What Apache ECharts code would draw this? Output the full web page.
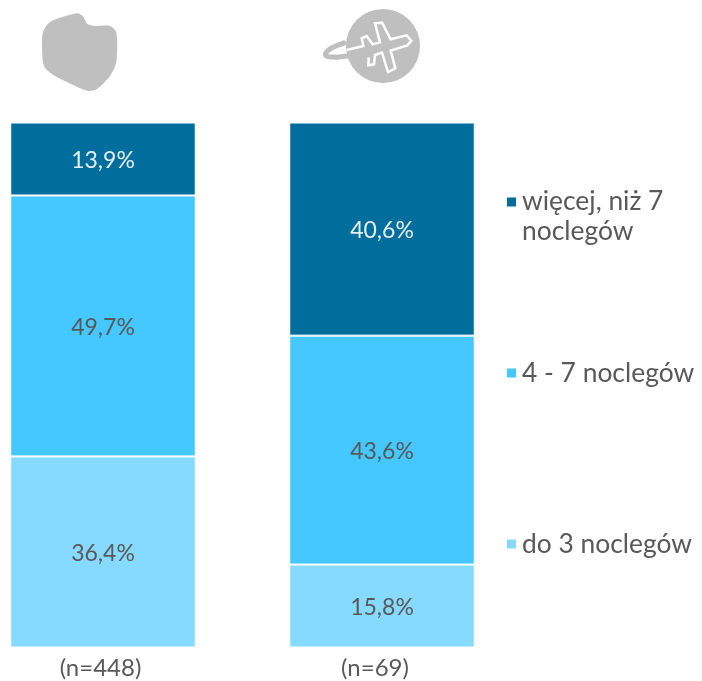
<!DOCTYPE html>
<html><head><meta charset="utf-8">
<style>html,body{margin:0;padding:0;background:#fff}#c{width:702px;height:681px}</style>
<script src="https://cdn.jsdelivr.net/npm/echarts@6/dist/echarts.min.js"></script></head>
<body><div id="c"></div>
<script>
const categories = ['(n=448)', '(n=69)'];
const seriesNames = ['do 3 noclegów', '4 - 7 noclegów', 'więcej, niż 7\nnoclegów'];
const do3 = [36.4, 15.8];
const od4do7 = [49.7, 43.6];
const ponad7 = [13.9, 40.6];
const colors = ['#87DAFF', '#45C7FF', '#006E9C'];
const FONT = 'Lato';
const TEXT = '#595959';

const chart = echarts.init(document.getElementById('c'), null, {renderer: 'canvas'});
const mkSeries = (name, data, color, labelColor) => ({
  name, type: 'bar', stack: 'total', data, barWidth: 185.5, clip: false,
  itemStyle: {color, borderColor: '#fff', borderWidth: 1},
  label: {show: true, position: 'inside', offset: [0, 1.5], color: labelColor, fontFamily: FONT, fontSize: 23,
    formatter: p => p.value.toFixed(1).replace('.', ',') + '%'}
});
const legendBase = {
  orient: 'vertical', left: 505, padding: 0, itemWidth: 11, itemHeight: 11, itemGap: 0, selectedMode: false,
  textStyle: {color: TEXT, fontFamily: FONT, fontSize: 26.4, lineHeight: 30}
};
const z = pts => pts.map(p => [p[0] / 3, p[1] / 3]);
const axisText = {color: TEXT, fontFamily: FONT, fontSize: 24};
chart.setOption({
  animation: false,
  grid: {left: 103, width: 279, top: 122.5, height: 525},
  xAxis: {type: 'category', data: categories, boundaryGap: false,
    axisLine: {show: false}, axisTick: {show: false},
    axisLabel: {color: TEXT, fontFamily: FONT, fontSize: 24, margin: 9, alignMinLabel: 'center', alignMaxLabel: 'center',
      formatter: (v, i) => `{${i === 0 ? 'a' : 'b'}|${v}}`,
      rich: {
        a: Object.assign({padding: [0, 5, 0, 0]}, axisText),
        b: Object.assign({padding: [0, 14, 0, 0]}, axisText)
      }}},
  yAxis: {type: 'value', min: 0, max: 100, show: false},
  legend: [
    Object.assign({}, legendBase, {data: [seriesNames[2]], top: 186, itemHeight: 39,
      icon: 'path://M0 0H11V11H0Z M0 39L0 39Z'}),
    Object.assign({}, legendBase, {data: [seriesNames[1]], top: 358, icon: 'rect'}),
    Object.assign({}, legendBase, {data: [seriesNames[0]], top: 529, icon: 'rect'})
  ],
  graphic: [
    {type: 'polygon', shape: {smooth: 0.25, points: z([[128,100],[150,66],[231,40],[250,50],[262,72],[285,78],[330,78],[349,97],[349,186],[330,228],[291,267],[268,273],[246,267],[165,228],[135,204],[128,180]])},
      style: {fill: '#BFBFBF'}},
    {type: 'circle', shape: {cx: 383, cy: 46, r: 37}, style: {fill: '#BFBFBF'}},
    {type: 'bezierCurve', shape: {x1: 344, y1: 43, cpx1: 325, cpy1: 49, cpx2: 318, cpy2: 58, x2: 335, y2: 57},
      style: {fill: 'none', stroke: '#BFBFBF', lineWidth: 5, lineCap: 'round'}},
    {type: 'line', shape: {x1: 335, y1: 57.5, x2: 372, y2: 53}, style: {stroke: '#BFBFBF', lineWidth: 5}},
    {type: 'polyline', shape: {points: z([[1040,150],[1090,138],[1085,115],[1100,108],[1118,133],[1140,127],[1125,70],[1146,68],[1172,118],[1220,106],[1234,122],[1222,136],[1172,152],[1186,205],[1164,216],[1146,158],[1125,165],[1122,193],[1105,196],[1106,172]])},
      style: {fill: 'none', stroke: '#fff', lineWidth: 2.5}}
  ],
  series: [
    mkSeries(seriesNames[0], do3, colors[0], TEXT),
    mkSeries(seriesNames[1], od4do7, colors[1], TEXT),
    mkSeries(seriesNames[2], ponad7, colors[2], '#E6EEF2')
  ]
});
</script></body></html>
